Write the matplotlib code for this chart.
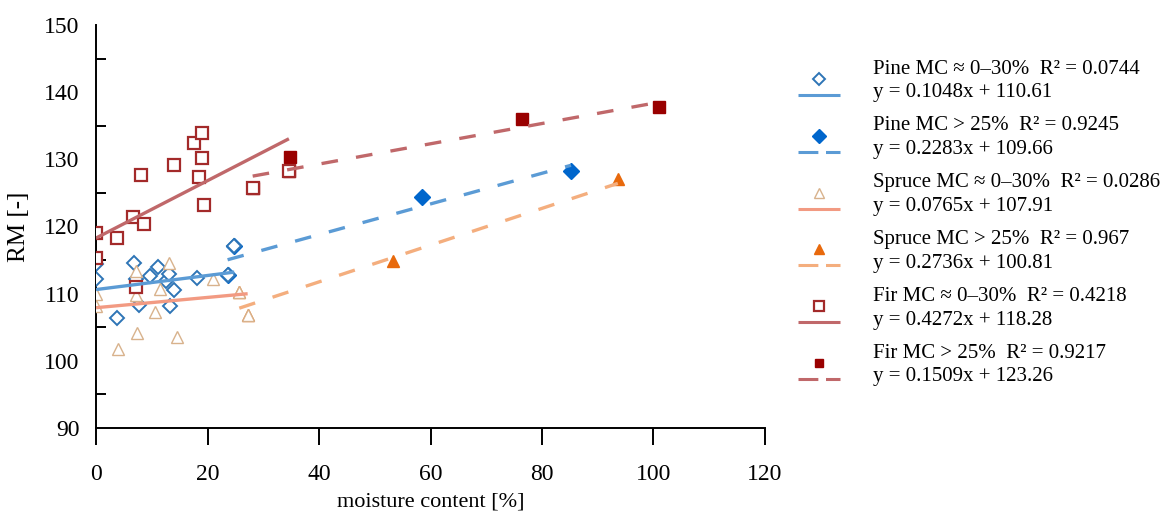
import matplotlib.pyplot as plt
from matplotlib.lines import Line2D
from matplotlib.ticker import MultipleLocator, FixedLocator
import numpy as np

plt.rcParams['font.family'] = ['Liberation Serif', 'DejaVu Serif']

# --- data (moisture content [%], RM [-]) ---
pine_lo_x = [0, 0, 3.8, 6.8, 7.2, 7.7, 9.7, 11.1, 12.6, 13.1, 13.3, 14.0, 18.2, 23.6, 24.8]
pine_lo_y = [114.4, 112.2, 106.35, 114.6, 112.2, 108.3, 112.7, 113.9, 111.9, 112.9, 108.1, 110.6, 112.3, 112.8, 117.1]
pine_hi_x = [23.6, 24.8, 58.4, 85.2]
pine_hi_y = [112.8, 117.1, 124.45, 128.3]

spruce_lo_x = [0, 0, 3.9, 7.2, 7.2, 7.3, 10.6, 11.5, 13.1, 14.5, 21.0, 25.7, 27.2]
spruce_lo_y = [109.9, 108.1, 101.7, 113.3, 109.8, 104.2, 107.3, 110.7, 114.5, 103.5, 112.2, 110.3, 106.85]
spruce_hi_x = [25.7, 27.2, 53.2, 93.6]
spruce_hi_y = [110.3, 106.85, 114.9, 127.0]

fir_lo_x = [0, 0, 3.7, 6.6, 7.2, 8.1, 8.6, 14.0, 17.5, 18.5, 19.0, 19.0, 19.4, 28.1, 34.6]
fir_lo_y = [119.1, 115.3, 118.35, 121.4, 111.0, 127.7, 120.4, 129.2, 132.4, 127.3, 133.9, 130.2, 123.2, 125.8, 128.3]
fir_hi_x = [28.1, 34.6, 34.8, 76.4, 100.9]
fir_hi_y = [125.8, 128.3, 130.4, 136.0, 137.75]

# trend line coefficients (slope, intercept) from the legend
trends = {
    'pine_lo': (0.1048, 110.61), 'pine_hi': (0.2283, 109.66),
    'spruce_lo': (0.0765, 107.91), 'spruce_hi': (0.2736, 100.81),
    'fir_lo': (0.4272, 118.28), 'fir_hi': (0.1509, 123.26),
}
labels = [
    ('Pine MC \u2248 0\u201330%  R\u00b2 = 0.0744', 'y = 0.1048x + 110.61'),
    ('Pine MC > 25%  R\u00b2 = 0.9245', 'y = 0.2283x + 109.66'),
    ('Spruce MC \u2248 0\u201330%  R\u00b2 = 0.0286', 'y = 0.0765x + 107.91'),
    ('Spruce MC > 25%  R\u00b2 = 0.967', 'y = 0.2736x + 100.81'),
    ('Fir MC \u2248 0\u201330%  R\u00b2 = 0.4218', 'y = 0.4272x + 118.28'),
    ('Fir MC > 25%  R\u00b2 = 0.9217', 'y = 0.1509x + 123.26'),
]

# marker style, line colour, dashed?
styles = [
    (dict(marker='D', ms=7.5, mfc='white', mec='#2E75B6', mew=1.4), '#5B9BD5', False),
    (dict(marker='D', ms=8.5, mfc='#0066CC', mec='#0066CC', mew=1), '#5B9BD5', True),
    (dict(marker='^', ms=9, mfc='white', mec='#D8B28C', mew=1.0), '#F29A82', False),
    (dict(marker='^', ms=9, mfc='#E8690C', mec='#E8690C', mew=1), '#F4AE7E', True),
    (dict(marker='s', ms=8.5, mfc='white', mec='#A32A2A', mew=1.6), '#C0686A', False),
    (dict(marker='s', ms=8, mfc='#990000', mec='#990000', mew=1), '#C0686A', True),
]
series = [
    (pine_lo_x, pine_lo_y, 'pine_lo'), (pine_hi_x, pine_hi_y, 'pine_hi'),
    (spruce_lo_x, spruce_lo_y, 'spruce_lo'), (spruce_hi_x, spruce_hi_y, 'spruce_hi'),
    (fir_lo_x, fir_lo_y, 'fir_lo'), (fir_hi_x, fir_hi_y, 'fir_hi'),
]

fig = plt.figure(figsize=(11.64, 5.14), dpi=100)
ax = fig.add_axes([0.0825, 0.1673, 0.5747, 0.7841])

# markers first, open series on top of filled ones
order = [1, 3, 5, 0, 2, 4]
for i in order:
    xs, ys, key = series[i]
    ax.plot(xs, ys, ls='none', zorder=3 + (i % 2 == 0), **styles[i][0])

for i, (xs, ys, key) in enumerate(series):
    m, b = trends[key]
    x0 = 0 if key.endswith('lo') else min(xs)
    tx = np.array([x0, max(xs)])
    ln, = ax.plot(tx, m * tx + b, color=styles[i][1], lw=2.4, zorder=5,
                  solid_capstyle='butt')
    if styles[i][2]:
        ln.set_dashes((5, 5.5))

ax.set_xlim(0, 120)
ax.set_ylim(90, 150)
ax.xaxis.set_major_locator(MultipleLocator(20))
ax.yaxis.set_major_locator(MultipleLocator(10))
ax.yaxis.set_minor_locator(FixedLocator(np.arange(95, 150, 10)))
for s in ['top', 'right']:
    ax.spines[s].set_visible(False)
for s in ['left', 'bottom']:
    ax.spines[s].set_linewidth(1.4)
    ax.spines[s].set_clip_on(False)
ax.tick_params(axis='x', direction='out', length=12, width=1.4, pad=14, labelsize=17)
ax.tick_params(axis='y', which='major', length=0, pad=12, labelsize=17)
ax.tick_params(axis='y', which='minor', direction='in', left=True, length=7, width=1.4)
ax.set_xlabel('moisture content [%]', fontsize=16, labelpad=5)
ax.set_ylabel('RM [-]', fontsize=18, labelpad=10)

# legend: marker above a line sample, two text lines beside
W, H = 1164, 514
for k, (l1, l2) in enumerate(labels):
    ytop = 69 + 56.8 * k
    mk = Line2D([819 / W], [1 - (ytop + 10) / H], transform=fig.transFigure,
                ls='none', **styles[k][0])
    mk.set_markersize(styles[k][0]['ms'] * 0.8)
    fig.add_artist(mk)
    ln = Line2D([798 / W, 840 / W], [1 - (ytop + 26) / H] * 2, transform=fig.transFigure,
                color=styles[k][1], lw=2.2, solid_capstyle='butt')
    if styles[k][2]:
        ln.set_dashes((6.5, 2.5))
    fig.add_artist(ln)
    fig.text(873 / W, 1 - ytop / H, l1, fontsize=15, va='center', ha='left')
    fig.text(873 / W, 1 - (ytop + 24) / H, l2, fontsize=15, va='center', ha='left')

fig.savefig('out.png', dpi=100)
